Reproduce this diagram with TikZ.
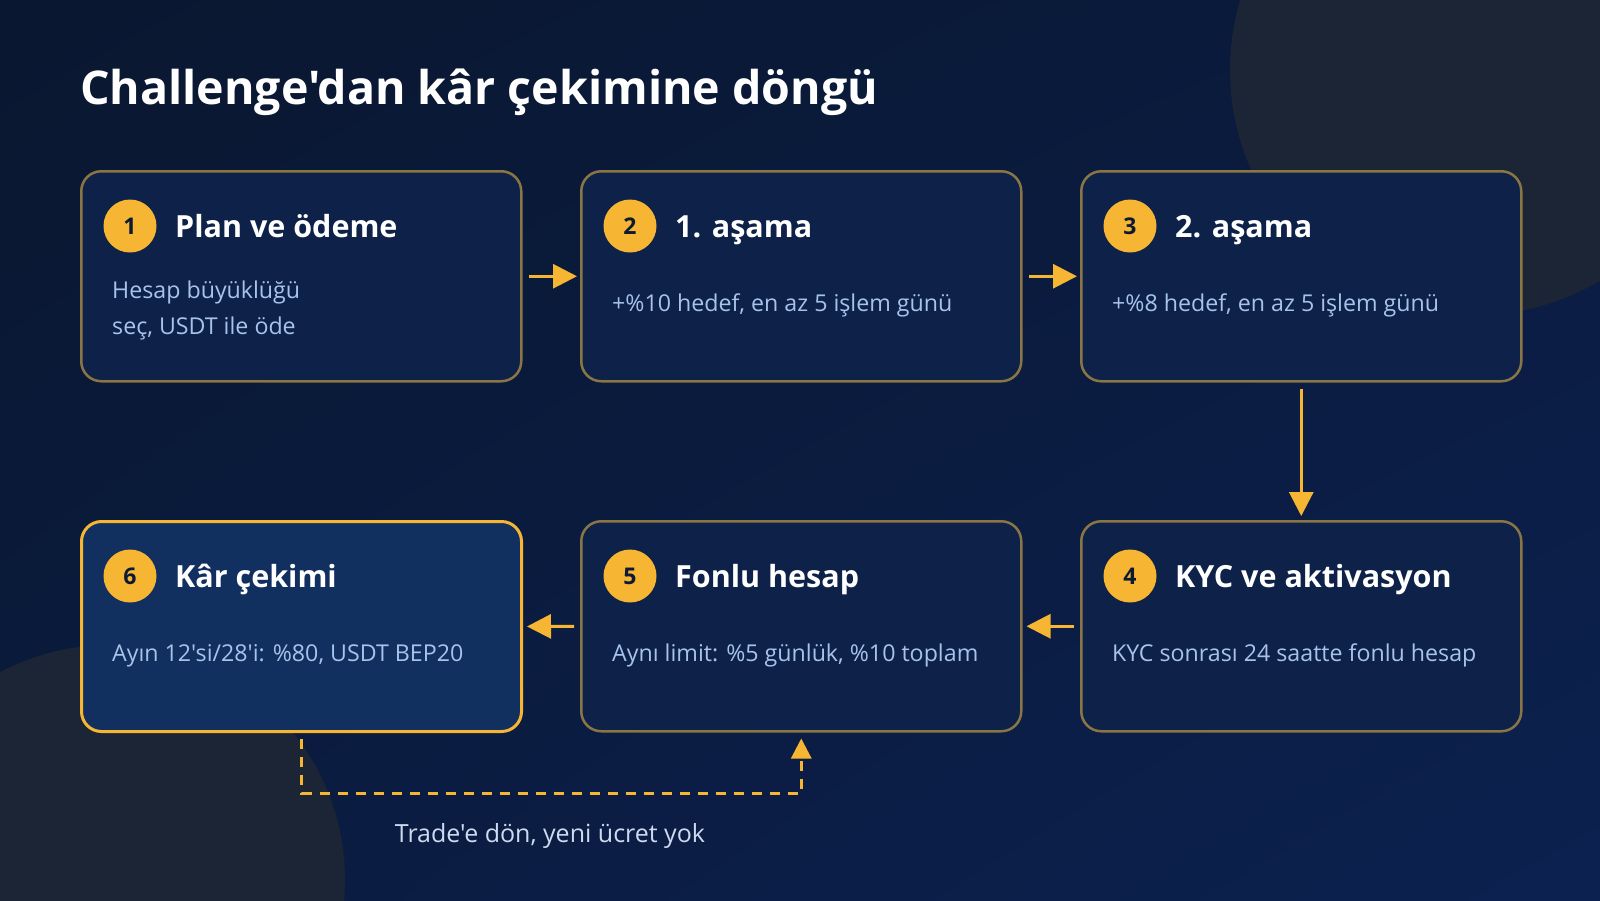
\documentclass[tikz,border=0pt]{standalone}
\usepackage{fontspec}
\setmainfont{Open Sans}[Ligatures=TeXOff]
\usepackage{tikz}
\usetikzlibrary{arrows.meta,calc,shadings}

\definecolor{bgA}{HTML}{0A1730}
\definecolor{bgB}{HTML}{0C2150}
\definecolor{bgM}{HTML}{0A1B3E}
\definecolor{deco}{HTML}{1C2535}
\definecolor{boxfill}{HTML}{0E2249}
\definecolor{lastfill}{HTML}{12305F}
\definecolor{boxline}{HTML}{8A7545}
\definecolor{accent}{HTML}{F6B532}
\definecolor{bodytext}{HTML}{A8C3EA}
\definecolor{notetext}{HTML}{CDDBF0}
\definecolor{numtext}{HTML}{0D1A33}

\begin{document}
\begin{tikzpicture}[x=1pt,y=-1pt,
    stepbox/.style={draw=boxline, line width=2.5pt, fill=boxfill, rounded corners=20pt,
        minimum width=440pt, minimum height=210pt, inner sep=0pt, anchor=north west},
    lastbox/.style={stepbox, draw=accent, line width=3pt, fill=lastfill},
    badge/.style={circle, fill=accent, minimum size=53pt, inner sep=0pt,
        text=numtext, font=\fontsize{23}{26}\selectfont\bfseries},
    heading/.style={anchor=base west, inner sep=0pt, text=white,
        font=\fontsize{30.5}{34}\selectfont\bfseries},
    body/.style={anchor=base west, inner sep=0pt, text=bodytext, align=left,
        font=\fontsize{23.2}{36}\selectfont},
    flow/.style={draw=accent, line width=3pt, -{Triangle[length=24pt,width=24pt]}},
    loopback/.style={draw=accent, line width=3pt, dash pattern=on 10pt off 8pt,
        -{Triangle[length=20pt,width=20pt]}}]
                \useasboundingbox (0,0) rectangle (1600,900);
                \shade[upper left=bgA, lower right=bgB, upper right=bgM, lower left=bgM]
                    (0,0) rectangle (1600,900);
                \begin{scope}
                    \clip (0,0) rectangle (1600,900);
                    \fill[deco] (1475,70) circle (245);
                    \fill[deco] (110,880) circle (235);
                \end{scope}

                \node[anchor=base west, inner sep=0pt, text=white,
                    font=\fontsize{46.5}{52}\selectfont\bfseries] (title) at (80,104)
                    {Challenge'dan kâr çekimine döngü};

                % boxes
                \node[stepbox] (b1) at (80,170) {};
                \node[stepbox] (b2) at (580,170) {};
                \node[stepbox] (b3) at (1080,170) {};
                \node[stepbox] (b4) at (1080,520) {};
                \node[stepbox] (b5) at (580,520) {};
                \node[lastbox] (b6) at (80,520) {};

                \node[badge] (n1) at ($(b1.north west)+(50,56)$) {1};
                \node[badge] (n2) at ($(b2.north west)+(50,56)$) {2};
                \node[badge] (n3) at ($(b3.north west)+(50,56)$) {3};
                \node[badge] (n4) at ($(b4.north west)+(50,56)$) {4};
                \node[badge] (n5) at ($(b5.north west)+(50,56)$) {5};
                \node[badge] (n6) at ($(b6.north west)+(50,56)$) {6};

                \node[heading] (h1) at ($(b1.north west)+(95,67)$) {Plan ve ödeme};
                \node[heading] (h2) at ($(b2.north west)+(95,67)$) {1. aşama};
                \node[heading] (h3) at ($(b3.north west)+(95,67)$) {2. aşama};
                \node[heading] (h4) at ($(b4.north west)+(95,67)$) {KYC ve aktivasyon};
                \node[heading] (h5) at ($(b5.north west)+(95,67)$) {Fonlu hesap};
                \node[heading] (h6) at ($(b6.north west)+(95,67)$) {Kâr çekimi};

                % two-line body sits on its last baseline
                \node[body] (t1) at ($(b1.north west)+(32,164)$) {Hesap büyüklüğü\\seç, USDT ile öde};
                \node[body] (t2) at ($(b2.north west)+(32,141)$) {+\%10 hedef, en az 5 işlem günü};
                \node[body] (t3) at ($(b3.north west)+(32,141)$) {+\%8 hedef, en az 5 işlem günü};
                \node[body] (t4) at ($(b4.north west)+(32,141)$) {KYC sonrası 24 saatte fonlu hesap};
                \node[body] (t5) at ($(b5.north west)+(32,141)$) {Aynı limit: \%5 günlük, \%10 toplam};
                \node[body] (t6) at ($(b6.north west)+(32,141)$) {Ayın 12'si/28'i: \%80, USDT BEP20};

                % connectors
                \draw[flow, shorten <=6pt, shorten >=3pt] (b1.east) -- (b2.west);
                \draw[flow, shorten <=6pt, shorten >=3pt] (b2.east) -- (b3.west);
                \draw[flow, shorten <=6pt, shorten >=4pt] (b3.south) -- (b4.north);
                \draw[flow, shorten <=6pt, shorten >=4pt] (b4.west) -- (b5.east);
                \draw[flow, shorten <=6pt, shorten >=4pt] (b5.west) -- (b6.east);
                \draw[loopback, shorten <=6pt, shorten >=6pt] (b6.south) -- ++(0,60) -| (b5.south);

                \node[anchor=base, inner sep=0pt, text=notetext,
                    font=\fontsize{25}{28}\selectfont] (note) at (550,842)
                    {Trade'e dön, yeni ücret yok};
            \end{tikzpicture}
\end{document}
